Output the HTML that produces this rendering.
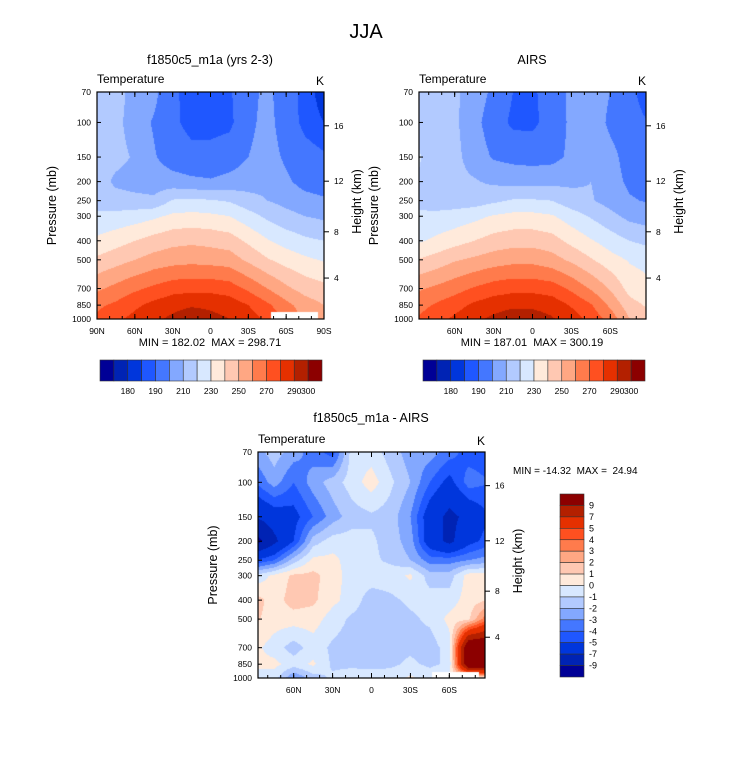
<!DOCTYPE html>
<html><head><meta charset="utf-8">
<style>
body{margin:0;background:#fff;width:733px;height:774px;overflow:hidden;font-family:"Liberation Sans",sans-serif;}
#wrap{position:relative;width:733px;height:774px;}
canvas{position:absolute;}
svg{position:absolute;left:0;top:0;}
text{white-space:pre;}
</style></head>
<body>
<div id="wrap">
<canvas id="c1"></canvas>
<canvas id="c2"></canvas>
<canvas id="c3"></canvas>
<svg id="ov" width="733" height="774"></svg>
</div>
<script>
// ---- data ----
const lats = [90,75,60,45,30,15,0,-15,-30,-45,-60,-75,-90];
const levels = [70,100,150,200,250,300,400,500,700,850,1000];
const pTickLabels = ["70","100","150","200","250","300","400","500","700","850","1000"];
const heightTicks = [4,8,12,16];
const heightTickPressure = [619,360,199,104];
const modelT = [
[215,215,205,203,191,188,188,189,196,203,193,188,182],
[215,213,205,199,192,187,187,188,197,204,194,188,185],
[215,213,209,201,195,193,193,195,200,205,198,193,191],
[215,208,206,205,204,202,201,203,205,207,202,196,193],
[216,214,213,212,221,222,221,219,214,210,207,204,202],
[222,223,225,228,232,233,232,230,224,218,213,210,208],
[232,236,240,244,247,248,247,245,238,231,226,222,220],
[242,246,250,254,256,257,256,255,248,241,236,232,229],
[258,263,268,272,276,277,277,275,268,260,252,246,243],
[268,272,278,283,287,289,288,286,280,272,263,255,250],
[272,278,283,288,292,296,293,290,285,278,268,258,252]];
const airsT = [
[218,216,212,205,198,190,189,193,203,205,200,193,184],
[218,215,212,203,195,188,188,194,202,206,198,194,190],
[222,215,213,205,199,197,196,197,202,206,203,196,193],
[220,215,213,211,208,207,207,207,208,210,204,198,196],
[219,216,215,215,218,221,221,220,214,211,206,201,199],
[221,222,224,227,231,233,233,231,225,219,213,207,205],
[228,232,236,240,244,246,246,244,237,231,225,220,217],
[240,244,249,252,255,257,257,254,248,241,234,229,227],
[258,262,266,271,275,277,277,275,268,259,249,236,232],
[266,271,276,282,286,288,288,286,279,271,258,244,238],
[270,276,282,288,292,296,295,291,285,277,266,250,245]];
const diffT = [
[-2.5,-1.5,-2.5,-3.5,-4.5,-0.5,-0.5,-1.5,-2.5,-2.5,-3.5,-4.5,-4.5],
[-4,-2.5,-4,-2.5,-1.5,-0.5,0.5,-0.8,-2,-4,-5.5,-3.5,-4],
[-7,-6,-5.5,-4,-2.5,-1.5,-1.2,-1.5,-3,-6,-7.5,-6.5,-5],
[-10,-7.5,-5,-1.5,-0.5,-0.5,-0.8,-1.5,-2.5,-6,-7.5,-5.5,-4.5],
[-5,-4,-1.5,0.3,0.3,-0.5,-0.8,-1.2,-2,-3.5,-3.5,-3,-2.5],
[-0.8,0.3,1.2,1.3,0.5,-0.5,-0.5,-0.5,0.2,-1.5,-1.5,0.5,0.5],
[1.5,0.5,1.5,1.2,0.3,-0.5,-1.5,-1.2,-0.8,-0.5,-0.5,0.5,1],
[1.2,0.5,0.5,0.5,-0.5,-1.2,-1.5,-1.5,-1.2,-0.8,0.3,0.8,4],
[0.3,-0.5,-1.5,-0.5,-1.2,-1.5,-1.5,-1.3,-1.2,-1.5,-0.5,12,12],
[0.3,0.3,-0.5,0.2,-1.2,-1.2,-1.3,-1.2,-0.8,-1.2,-0.8,12,12],
[-0.5,-0.5,-3,-1.5,-0.8,-0.5,-0.5,-0.5,0.2,-0.5,0.3,0.5,0.5]];
const tempLevels = [175,180,185,190,200,210,220,230,240,250,260,270,280,290,300];
const tempBarLabels = ["180","190","210","230","250","270","290","300"];
const tempBarLabelIdx = [1,3,5,7,9,11,13,14];
const diffLevels = [-9,-7,-5,-4,-3,-2,-1,0,1,2,3,4,5,7,9];
const diffBarLabels = ["9","7","5","4","3","2","1","0","-1","-2","-3","-4","-5","-7","-9"];
const palette = ["#000096","#0023b4","#0036dc","#1f57ff","#4477ff","#83a8ff","#b2caff","#d8e8ff","#ffeadb","#ffc8b2","#ffa783","#ff7b4c","#ff5020","#e53000","#b32000","#8c0000"];

// ---- helpers ----
const NS="http://www.w3.org/2000/svg";
const ov=document.getElementById('ov');
function mk(tag,attrs,parent){const e=document.createElementNS(NS,tag);for(const k in attrs)e.setAttribute(k,attrs[k]);(parent||ov).appendChild(e);return e;}
function txt(x,y,s,size,anchor,name,extra){const t=mk('text',Object.assign({x:x,y:y,'font-size':size,'text-anchor':anchor||'middle','font-family':'Liberation Sans, sans-serif',fill:'#000'},extra||{}));t.textContent=s;


return t;}
function hexRgb(h){return [parseInt(h.substr(1,2),16),parseInt(h.substr(3,2),16),parseInt(h.substr(5,2),16)];}
const palRgb=palette.map(hexRgb);
function classify(v,lv){let i=0;while(i<lv.length&&v>=lv[i])i++;return i;}
function sample(field,lat,p){
  let fi=(90-lat)/15; fi=Math.max(0,Math.min(lats.length-1.0001,fi));
  const i0=Math.floor(fi),fx=fi-i0;
  const lp=Math.log(p);let j0=0;
  while(j0<levels.length-2&&Math.log(levels[j0+1])<lp)j0++;
  let fy=(lp-Math.log(levels[j0]))/(Math.log(levels[j0+1])-Math.log(levels[j0]));fy=Math.max(0,Math.min(1,fy));
  const a=field[j0][i0],b=field[j0][i0+1],c=field[j0+1][i0],d=field[j0+1][i0+1];
  return (a*(1-fx)+b*fx)*(1-fy)+(c*(1-fx)+d*fx)*fy;
}
function panel(cfg){
  const {x0,y0,w,h,latMax,field,lv,canvasId,mask,xLabels,xLabelLat}=cfg;
  const xOf=lat=>x0+(latMax-lat)/(2*latMax)*w;
  const yOf=p=>y0+Math.log(p/70)/Math.log(1000/70)*h;
  const cv=document.getElementById(canvasId);cv.width=w;cv.height=h;cv.style.left=x0+'px';cv.style.top=y0+'px';
  const ctx=cv.getContext('2d');const img=ctx.createImageData(w,h);
  for(let py=0;py<h;py++){const p=70*Math.exp((py+0.5)/h*Math.log(1000/70));
    for(let px=0;px<w;px++){const lat=latMax-(px+0.5)/w*2*latMax;const v=sample(field,lat,p);const c=palRgb[classify(v,lv)];
      const k=(py*w+px)*4;img.data[k]=c[0];img.data[k+1]=c[1];img.data[k+2]=c[2];img.data[k+3]=255;}}
  ctx.putImageData(img,0,0);
  if(mask){ctx.fillStyle='#fff';ctx.fillRect(mask[0]-x0,mask[1]-y0,mask[2],mask[3]);}
  const g=mk('g',{});
  
  
  mk('rect',{x:x0,y:y0,width:w,height:h,fill:'none',stroke:'#000','stroke-width':1.2},g);
  levels.forEach((p,i)=>{const y=yOf(p);mk('line',{x1:x0,x2:x0+4,y1:y,y2:y,stroke:'#000'},g);
    txt(x0-6,y+3,pTickLabels[i],8.5,'end','pressure-tick-label');});
  heightTicks.forEach((z,i)=>{const y=yOf(heightTickPressure[i]);mk('line',{x1:x0+w,x2:x0+w+5,y1:y,y2:y,stroke:'#000'},g);
    txt(x0+w+10,y+3,String(z),8.5,'start','height-tick-label');});
  for(let L=-90;L<=90;L+=10){if(Math.abs(L)>latMax)continue;const x=xOf(L);
    mk('line',{x1:x,x2:x,y1:y0,y2:y0+3,stroke:'#000'},g);mk('line',{x1:x,x2:x,y1:y0+h,y2:y0+h-3,stroke:'#000'},g);}
  xLabelLat.forEach((L,i)=>{const x=xOf(L);mk('line',{x1:x,x2:x,y1:y0+h,y2:y0+h-5,stroke:'#000'},g);mk('line',{x1:x,x2:x,y1:y0,y2:y0+5,stroke:'#000'},g);
    txt(x,y0+h+15,xLabels[i],8.5,'middle','latitude-tick-label');});
  txt(x0,y0-9,'Temperature',12,'start','variable-label');
  txt(x0+w,y0-7,'K',12,'end','units-label');
  txt(x0-41,y0+h/2,'Pressure (mb)',12.5,'middle','y-axis-title',{transform:`rotate(-90 ${x0-41} ${y0+h/2})`});
  txt(x0+w+37,y0+h/2-4,'Height (km)',12.5,'middle','right-axis-title',{transform:`rotate(-90 ${x0+w+37} ${y0+h/2-4})`});
}
function hbar(x0,y0,w,h,name){
  const g=mk('g',{});
  
  
  const bw=w/palette.length;
  palette.forEach((c,i)=>mk('rect',{x:x0+i*bw,y:y0,width:bw,height:h,fill:c,stroke:'#333','stroke-width':0.6},g));
  tempBarLabels.forEach((s,i)=>txt(x0+(tempBarLabelIdx[i]+1)*bw,y0+h+13,s,8.5,'middle','colorbar-label'));
}
function vbar(x0,y0,w,h,name){
  const g=mk('g',{});
  
  
  const bh=h/palette.length;
  palette.slice().reverse().forEach((c,i)=>mk('rect',{x:x0,y:y0+i*bh,width:w,height:bh,fill:c,stroke:'#333','stroke-width':0.6},g));
  diffBarLabels.forEach((s,i)=>txt(x0+w+5,y0+(i+1)*bh+3,s,9,'start','colorbar-label'));
}
const latLab=["90N","60N","30N","0","30S","60S","90S"],latLabV=[90,60,30,0,-30,-60,-90];
const latLab2=["60N","30N","0","30S","60S"],latLabV2=[60,30,0,-30,-60];

txt(366,38,'JJA',20,'middle','figure-title');
txt(210,64,'f1850c5_m1a (yrs 2-3)',12.5,'middle','model-panel-title');
txt(532,64,'AIRS',12.5,'middle','airs-panel-title');
txt(371,422,'f1850c5_m1a - AIRS',12.5,'middle','difference-panel-title');

panel({name:'model-panel',x0:97,y0:92,w:227,h:227,latMax:90,field:modelT,lv:tempLevels,canvasId:'c1',mask:[271,312,47,7],xLabels:latLab,xLabelLat:latLabV});
panel({name:'airs-panel',x0:419,y0:92,w:227,h:227,latMax:87.5,field:airsT,lv:tempLevels,canvasId:'c2',mask:null,xLabels:latLab2,xLabelLat:latLabV2});
panel({name:'difference-panel',x0:258,y0:452,w:227,h:226,latMax:87.5,field:diffT,lv:diffLevels,canvasId:'c3',mask:[432,672,47,6],xLabels:latLab2,xLabelLat:latLabV2});

txt(210,346,'MIN = 182.02  MAX = 298.71',11,'middle','model-min-max');
txt(532,346,'MIN = 187.01  MAX = 300.19',11,'middle','airs-min-max');
txt(513,474,'MIN = -14.32  MAX =  24.94',10,'start','difference-min-max');

hbar(100,360,222,21,'model-colorbar');
hbar(423,360,222,21,'airs-colorbar');
vbar(560,494,24,183,'difference-colorbar');
</script>
</body></html>
